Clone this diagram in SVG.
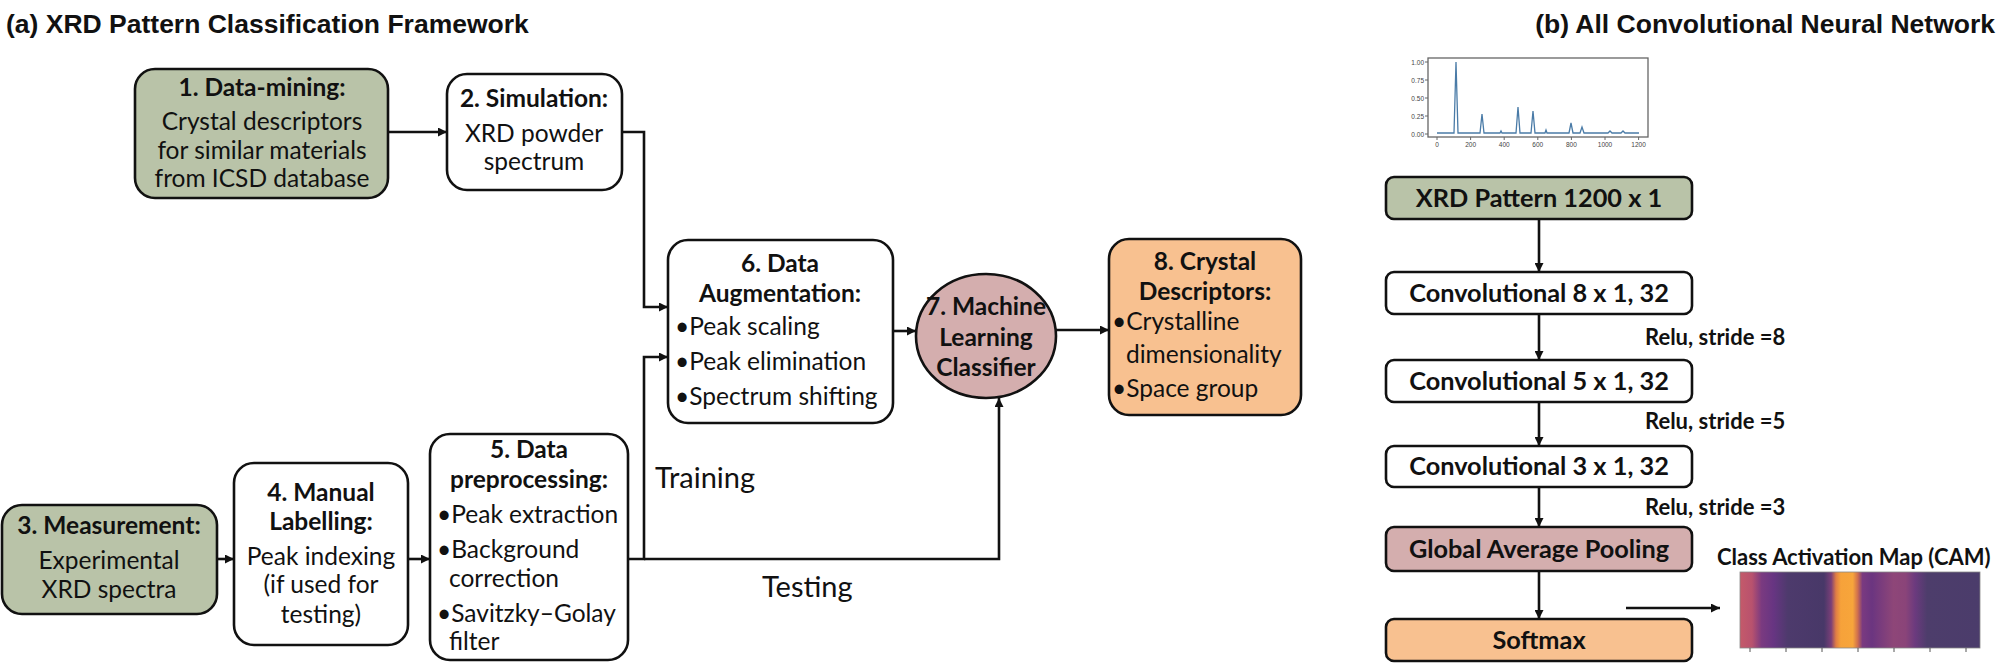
<svg xmlns="http://www.w3.org/2000/svg" width="2000" height="668" viewBox="0 0 2000 668">
<style>
.t{font-family:Lato,"Liberation Sans",sans-serif;font-size:24.5px;fill:#111}
.b{font-weight:bold}
.c{text-anchor:middle}
.title{font-family:"Liberation Sans",Arial,sans-serif;font-size:26.5px;font-weight:bold;fill:#111}
.box{stroke:#111;stroke-width:2.6}
.w{fill:#fff}
.g{fill:#b9c3a8}
.p{fill:#d4aeae}
.o{fill:#f8c190}
.con{fill:none;stroke:#111;stroke-width:2.6}
.rb{font-family:Lato,"Liberation Sans",sans-serif;font-size:25.3px;font-weight:bold;fill:#111;text-anchor:middle}
.rl{font-family:Lato,"Liberation Sans",sans-serif;font-size:22px;font-weight:bold;fill:#111}
.big{font-family:Lato,"Liberation Sans",sans-serif;font-size:29px;fill:#111}
.ax{font-family:"Liberation Sans",Arial,sans-serif;font-size:6.5px;fill:#444}
</style>
<defs>
<marker id="ah" viewBox="0 0 10 10" refX="10" refY="5" markerWidth="10" markerHeight="9" markerUnits="userSpaceOnUse" orient="auto"><path d="M0,0 L10,5 L0,10 z" fill="#111"/></marker>
<linearGradient id="cam" x1="0" y1="0" x2="1" y2="0">
<stop offset="0" stop-color="#c45a6a"/>
<stop offset="0.05" stop-color="#b8526e"/>
<stop offset="0.09" stop-color="#7a3a80"/>
<stop offset="0.14" stop-color="#673582"/>
<stop offset="0.2" stop-color="#4d3a6c"/>
<stop offset="0.35" stop-color="#483868"/>
<stop offset="0.38" stop-color="#7a3f78"/>
<stop offset="0.40" stop-color="#e07d45"/>
<stop offset="0.42" stop-color="#f6a23a"/>
<stop offset="0.47" stop-color="#f7a53b"/>
<stop offset="0.49" stop-color="#d0704e"/>
<stop offset="0.51" stop-color="#7a3a80"/>
<stop offset="0.55" stop-color="#6b3580"/>
<stop offset="0.64" stop-color="#8e4678"/>
<stop offset="0.69" stop-color="#8a4479"/>
<stop offset="0.73" stop-color="#6b3a7e"/>
<stop offset="0.78" stop-color="#4d3d6b"/>
<stop offset="1" stop-color="#4b3c6b"/>
</linearGradient>
</defs>
<rect width="2000" height="668" fill="#fff"/>

<text class="title" x="6" y="33">(a) XRD Pattern Classification Framework</text>
<text class="title" x="1995" y="33" text-anchor="end" font-size="25">(b) All Convolutional Neural Network</text>

<g id="node1">
<rect class="box g" x="135" y="69" width="253" height="129" rx="20"/>
<text class="t b c" x="262" y="96">1. Data-mining:</text>
<text class="t c" x="262" y="130">Crystal descriptors</text>
<text class="t c" x="262" y="159">for similar materials</text>
<text class="t c" x="262" y="187">from ICSD database</text>
</g>
<g id="node2">
<rect class="box w" x="447" y="74" width="175" height="116" rx="20"/>
<text class="t b c" x="534" y="107">2. Simulation:</text>
<text class="t c" x="534" y="142">XRD powder</text>
<text class="t c" x="534" y="170">spectrum</text>
</g>
<g id="node3">
<rect class="box g" x="2" y="505" width="215" height="109" rx="20"/>
<text class="t b c" x="109" y="534">3. Measurement:</text>
<text class="t c" x="109" y="569">Experimental</text>
<text class="t c" x="109" y="598">XRD spectra</text>
</g>
<g id="node4">
<rect class="box w" x="234" y="463" width="174" height="182" rx="20"/>
<text class="t b c" x="321" y="501">4. Manual</text>
<text class="t b c" x="321" y="530">Labelling:</text>
<text class="t c" x="321" y="565">Peak indexing</text>
<text class="t c" x="321" y="593">(if used for</text>
<text class="t c" x="321" y="623">testing)</text>
</g>
<g id="node5">
<rect class="box w" x="430" y="434" width="198" height="226" rx="20"/>
<text class="t b c" x="529" y="458">5. Data</text>
<text class="t b c" x="529" y="488">preprocessing:</text>
<text class="t" x="437" y="523">•Peak extraction</text>
<text class="t" x="437" y="558">•Background</text>
<text class="t" x="449" y="587">correction</text>
<text class="t" x="437" y="622">•Savitzky–Golay</text>
<text class="t" x="449" y="650">filter</text>
</g>
<g id="node6">
<rect class="box w" x="668" y="240" width="225" height="183" rx="20"/>
<text class="t b c" x="780" y="272">6. Data</text>
<text class="t b c" x="780" y="302">Augmentation:</text>
<text class="t" x="675" y="335">•Peak scaling</text>
<text class="t" x="675" y="370">•Peak elimination</text>
<text class="t" x="675" y="405">•Spectrum shifting</text>
</g>
<g id="node7">
<ellipse class="box p" cx="986" cy="336" rx="70" ry="62"/>
<text class="t b c" x="986" y="315">7. Machine</text>
<text class="t b c" x="986" y="346">Learning</text>
<text class="t b c" x="986" y="376">Classifier</text>
</g>
<g id="node8">
<rect class="box o" x="1109" y="239" width="192" height="176" rx="20"/>
<text class="t b c" x="1205" y="270">8. Crystal</text>
<text class="t b c" x="1205" y="300">Descriptors:</text>
<text class="t" x="1112" y="330">•Crystalline</text>
<text class="t" x="1126" y="363">dimensionality</text>
<text class="t" x="1112" y="397">•Space group</text>
</g>

<text class="big" x="655" y="488">Training</text>
<text class="big" x="762" y="597">Testing</text>

<g id="plot">
<rect x="1428" y="58" width="220" height="79" fill="none" stroke="#666" stroke-width="1.3"/>
<path d="M1437,133 L1454,133 L1456,62 L1458,133 L1480,133 L1482,114 L1484,133 L1500,133 L1501,131 L1502,133 L1516,133 L1518,107 L1520,133 L1531,133 L1533,111 L1535,133 L1545,133 L1546,130 L1547,133 L1569,133 L1571,123 L1573,133 L1580,133 L1582,127 L1584,133 L1608,133 L1610,131 L1612,133 L1621,133 L1623,131 L1625,133 L1639,133" fill="none" stroke="#4a7ba7" stroke-width="1.3"/>
<g stroke="#666" stroke-width="1">
<path d="M1425,62 H1428 M1425,80 H1428 M1425,98 H1428 M1425,116 H1428 M1425,134 H1428"/>
<path d="M1437,137 V140 M1470.6,137 V140 M1504.2,137 V140 M1537.8,137 V140 M1571.4,137 V140 M1605,137 V140 M1638.6,137 V140"/>
</g>
<g class="ax" text-anchor="end">
<text x="1424" y="64.5">1.00</text>
<text x="1424" y="82.5">0.75</text>
<text x="1424" y="100.5">0.50</text>
<text x="1424" y="118.5">0.25</text>
<text x="1424" y="136.5">0.00</text>
</g>
<g class="ax" text-anchor="middle">
<text x="1437" y="147">0</text>
<text x="1470.6" y="147">200</text>
<text x="1504.2" y="147">400</text>
<text x="1537.8" y="147">600</text>
<text x="1571.4" y="147">800</text>
<text x="1605" y="147">1000</text>
<text x="1638.6" y="147">1200</text>
</g>
</g>

<g id="xrd">
<rect class="box g" x="1386" y="177" width="306" height="42" rx="8"/>
<text class="rb" x="1539" y="207">XRD Pattern 1200 x 1</text>
</g>
<g id="conv8">
<rect class="box w" x="1386" y="272" width="306" height="42" rx="8"/>
<text class="rb" x="1539" y="302">Convolutional 8 x 1, 32</text>
</g>
<g id="conv5">
<rect class="box w" x="1386" y="360" width="306" height="42" rx="8"/>
<text class="rb" x="1539" y="390">Convolutional 5 x 1, 32</text>
</g>
<g id="conv3">
<rect class="box w" x="1386" y="446" width="306" height="41" rx="8"/>
<text class="rb" x="1539" y="475">Convolutional 3 x 1, 32</text>
</g>
<g id="gap">
<rect class="box p" x="1386" y="527" width="306" height="44" rx="8"/>
<text class="rb" x="1539" y="558">Global Average Pooling</text>
</g>
<g id="softmax">
<rect class="box o" x="1386" y="619" width="306" height="42" rx="8"/>
<text class="rb" x="1539" y="649">Softmax</text>
</g>
<text class="rl" x="1645" y="345">Relu, stride =8</text>
<text class="rl" x="1645" y="429">Relu, stride =5</text>
<text class="rl" x="1645" y="515">Relu, stride =3</text>
<text class="rl" x="1717" y="565">Class Activation Map (CAM)</text>

<g id="cam-map">
<rect x="1740" y="572" width="240" height="76" fill="url(#cam)" stroke="#888" stroke-width="0.8"/>
<path d="M1750,648 V652 M1786,648 V652 M1822,648 V652 M1858,648 V652 M1894,648 V652 M1930,648 V652 M1966,648 V652" stroke="#555" stroke-width="1"/>
</g>

<g id="connectors" class="con">
<path d="M388,132 H447" marker-end="url(#ah)"/>
<path d="M622,132 H644 V307 H668" marker-end="url(#ah)"/>
<path d="M217,559 H234" marker-end="url(#ah)"/>
<path d="M408,559 H430" marker-end="url(#ah)"/>
<path d="M628,559 H644 V357 H668" marker-end="url(#ah)"/>
<path d="M644,559 H999 V398" marker-end="url(#ah)"/>
<path d="M893,331 H916" marker-end="url(#ah)"/>
<path d="M1056,330 H1109" marker-end="url(#ah)"/>
<path d="M1539,219 V272" marker-end="url(#ah)"/>
<path d="M1539,314 V360" marker-end="url(#ah)"/>
<path d="M1539,402 V446" marker-end="url(#ah)"/>
<path d="M1539,487 V527" marker-end="url(#ah)"/>
<path d="M1539,571 V619" marker-end="url(#ah)"/>
<path d="M1626,608 H1720" marker-end="url(#ah)"/>
</g>
</svg>
